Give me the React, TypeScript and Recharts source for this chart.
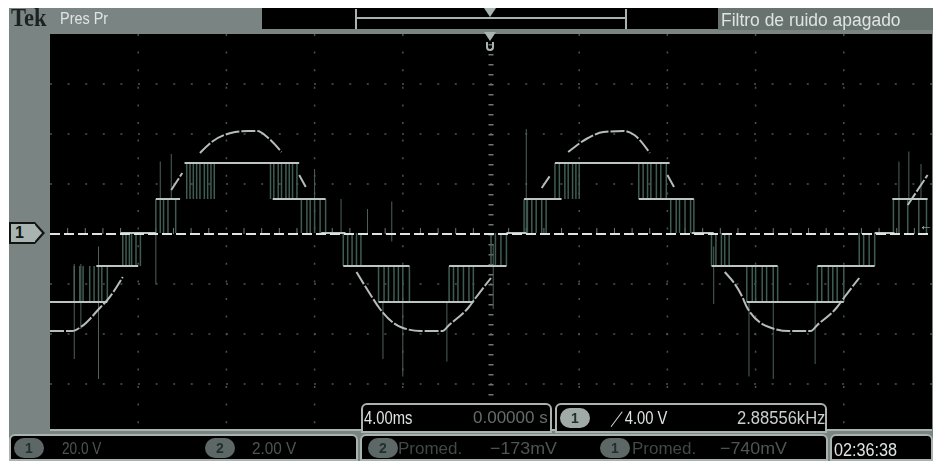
import React from 'react';
import { ComposedChart, Line, XAxis, YAxis, CartesianGrid, ReferenceLine } from 'recharts';

// time in ms (4 ms/div), channel 1 in volts (20 V/div)
const stepStart = [-20, -17.9, -16.8, -15.2, -13.9, -9.9, -7.7, -6.7, -5.1, -1.9, 0.7, 1.5, 2.9, 6.7, 9.1, 10, 11.6, 14.8, 17.4, 18.2];
const stepEnd = [-17.4, -16, -15.2, -14.1, -8.7, -7.5, -6.6, -3.7, -0.8, 0.7, 1.6, 3.2, 8.1, 9.2, 10.1, 13, 16, 17.4, 18.3, 19.8];
const stepLevel = [-27.2, -12.8, 0.4, 14, 28.4, 14, 0.4, -12.8, -27.2, -12.8, 0.4, 14, 28.4, 14, 0.4, -12.8, -27.2, -12.8, 0.4, 14];

const outlineMs = [-20, -19, -18.6, -17.7, -17.4, -16.7, -16, -14.5, -14, -13.6, -13.2, -12.6, -11.8, -11, -10.6, -10.1, -9.5, -9, -8.7, -8.4, -7, -6.1, -5.4, -5.1, -4.1, -3.2, -2.2, -1.9, -1, -0.7, 0, 1, 2.3, 2.7, 3.1, 3.5, 4.4, 5.1, 6, 6.5, 7.2, 7.6, 8, 8.3, 9.5, 10.6, 11.4, 11.6, 12.6, 13.5, 14.5, 14.8, 15.7, 16, 16.7, 18, 18.9, 19.8];
const outlineV = [-38.8, -38.8, -37.2, -29.2, -26.4, -17.2, null, 17.6, 24.4, null, 32.4, 37.2, 40.4, 41.2, 41.2, 38.4, 32.8, null, 23.6, 18.8, null, -15.2, -25.2, -29.2, -37.2, -38.8, -38.8, -36.4, -29.2, -25.6, -17.6, null, 18.4, 23.6, null, 32.8, 38.4, 40.8, 41.2, 39.6, 32.4, null, 23.6, 18.8, null, -15.2, -25.2, -29.2, -37.2, -38.8, -38.8, -36.4, -29.2, -25.6, -17.6, null, 11.6, 23.6];

// switching bursts between the inverter levels
const burstUpper = [-13.8, -13.65, -13.5, -13.35, -13.2, -13, -12.85, -12.7, -12.55, -10, -9.85, -9.65, -9.5, -9.3, -9.15, -9, -8.8, 2.9, 3.1, 3.35, 3.5, 3.7, 3.85, 4, 6.7, 6.9, 7.1, 7.25, 7.5, 7.7, 7.95];
const burstLower = [-15.2, -15, -14.85, -14.65, -14.3, -8.6, -8.35, -8.2, -8, -7.75, -7.5, 1.5, 1.65, 1.85, 2.05, 2.3, 2.5, 8.15, 8.4, 8.55, 8.8, 9.05, 9.2, 18.25, 18.5, 18.9, 19.4, 19.75];
const burstNegUpper = [-16.7, -16.55, -16.4, -16.3, -16.1, -15.9, -6.7, -6.5, -6.3, -6.1, -5.9, 0, 0.2, 0.45, 0.7, 10, 10.2, 10.45, 10.6, 10.8, 16.7, 16.9, 17.15, 17.4];
const burstNegLower = [-18.9, -18.65, -18.5, -18.2, -18, -17.8, -17.65, -17.4, -5.1, -4.85, -4.65, -4.4, -4.2, -4, -3.7, -1.9, -1.7, -1.5, -1.25, -1, -0.8, 11.6, 11.85, 12, 12.3, 12.5, 12.8, 13, 14.8, 15, 15.3, 15.5, 15.7, 16];

const spikeMs = [-18.9, -18.6, -17.8, -15.2, -15, -14.5, -8, 0.1, -6.8, -5.6, -4.5, -4.9, -4, -2, 1.6, 10.1, 11.7, 12.8, 14.7, 18.5, 18.95, 19.5];
const spikeTop = [-12, -12, -5, 0, 29, 32, 26, -4, 14, 10, 13, -27, -27, -27, 42, -5, -27, -27, -27, 29, 33, 28];
const spikeBottom = [-50, -38, -58, -20, 14, 14, 14, -30, 0, 0, -3, -50, -57, -51, 0, -28, -57, -58, -52, 14, 14, 14];

const topTicks = [-20, -19.2, -18.4, -17.6, -16.8, -16, -15.2, -14.4, -13.6, -12.8, -12, -11.2, -10.4, -9.6, -8.8, -8, -7.2, -6.4, -5.6, -4.8, -4, -3.2, -2.4, -1.6, -0.8, 0, 0.8, 1.6, 2.4, 3.2, 4, 4.8, 5.6, 6.4, 7.2, 8, 8.8, 9.6, 10.4, 11.2, 12, 12.8, 13.6, 14.4, 15.2, 16, 16.8, 17.6, 18.4, 19.2];
const sideTicks = [-72, -64, -56, -48, -40, -32, -24, -16, -8, 0, 8, 16, 24, 32, 40, 48, 56, 64, 72];
const gridMs = [-16, -12, -8, -4, 4, 8, 12, 16];
const gridV = [-60, -40, -20, 20, 40, 60];
const centerTickMs = [-19.2, -18.4, -17.6, -16.8, -15.2, -14.4, -13.6, -12.8, -11.2, -10.4, -9.6, -8.8, -7.2, -6.4, -5.6, -4.8, -3.2, -2.4, -1.6, -0.8, 0.8, 1.6, 2.4, 3.2, 4.8, 5.6, 6.4, 7.2, 8.8, 9.6, 10.4, 11.2, 12.8, 13.6, 14.4, 15.2, 16.8, 17.6, 18.4, 19.2];

const stepData = stepStart.flatMap((s, i) => [
  { t: s, v: stepLevel[i] },
  { t: stepEnd[i], v: stepLevel[i] },
  { t: stepEnd[i], v: null },
]);
const outlineData = outlineMs.map((t, i) => ({ t, v: outlineV[i] }));
const bars = (xs: number[], lo: number, hi: number) =>
  xs.flatMap((t) => [{ t, v: lo }, { t, v: hi }, { t, v: null }]);
const spikeData = spikeMs.flatMap((t, i) => [
  { t, v: spikeBottom[i] },
  { t, v: spikeTop[i] },
  { t, v: null },
]);
const burstData = [
  ...bars(burstUpper, 14, 28.4),
  ...bars(burstLower, 0.4, 14),
  ...bars(burstNegUpper, -12.8, 0.4),
  ...bars(burstNegLower, -27.2, -12.8),
];
const centerTicks = bars(centerTickMs, 0, 2.4);

const Label = ({ x, y, size = 18, color = '#dfe4e2', squeeze = 0.8, children }: any) => (
  <div style={{ position: 'absolute', left: x, top: y, fontFamily: "'Liberation Sans', sans-serif", fontSize: size, color, lineHeight: '18px', whiteSpace: 'nowrap', transform: `scaleX(${squeeze})`, transformOrigin: 'left' }}>
    {children}
  </div>
);

const Badge = ({ x, y, color = '#7f8a88', children }: any) => (
  <div style={{ position: 'absolute', left: x, top: y, width: 30, height: 20, borderRadius: 10, background: color, color: '#20302c', fontFamily: "'Liberation Sans', sans-serif", fontSize: 14, fontWeight: 700, textAlign: 'center', lineHeight: '20px' }}>
    {children}
  </div>
);

const Box = ({ x, y, w, h, radius = '6px 6px 0 0' }: any) => (
  <div style={{ position: 'absolute', left: x, top: y, width: w, height: h, boxSizing: 'border-box', background: '#000', border: '2px solid #a9b3b0', borderRadius: radius }} />
);

const App = () => {
  return (
    <div style={{ position: 'absolute', left: 0, top: 0, width: 935, height: 461, background: '#fff', overflow: 'hidden' }}>
      <div style={{ position: 'absolute', left: 0, top: 0, width: 935, height: 461, filter: 'blur(0.7px)' }}>
        <div style={{ position: 'absolute', left: 9, top: 8, width: 924, height: 453, background: '#7a8483' }} />
        <ComposedChart
          width={935}
          height={461}
          margin={{ top: 34, right: 3, bottom: 31, left: 50 }}
          style={{ position: 'absolute', left: 0, top: 0 }}
        >
          <CartesianGrid
            fill="#000"
            stroke="#4d5352"
            strokeWidth={1.5}
            strokeDasharray="2 15.6"
            horizontalValues={gridV}
            verticalValues={gridMs}
          />
          <XAxis
            dataKey="t"
            type="number"
            orientation="top"
            domain={[-20, 20]}
            ticks={topTicks}
            height={0}
            mirror
            allowDataOverflow
            interval={0}
            axisLine={{ stroke: '#a9b3b0', strokeWidth: 3 }}
            tickLine={{ stroke: '#7d8583' }}
            tickSize={-4}
            tick={{ fontSize: 0 }}
          />
          <YAxis
            type="number"
            domain={[-78.4, 80]}
            ticks={sideTicks}
            width={0}
            mirror
            allowDataOverflow
            interval={0}
            axisLine={{ stroke: '#a9b3b0', strokeWidth: 2 }}
            tickLine={{ stroke: '#7d8583' }}
            tickSize={-4}
            tick={{ fontSize: 0 }}
          />
          <ReferenceLine x={0} stroke="#6f7775" strokeWidth={5} strokeDasharray="1.5 8.5" />
          <ReferenceLine y={-78.4} stroke="#a9b3b0" strokeWidth={2} />
          <Line data={centerTicks} dataKey="v" stroke="#6f7775" strokeWidth={1} dot={false} legendType="none" isAnimationActive={false} />
          <Line data={burstData} dataKey="v" stroke="#3f5c52" strokeWidth={1.5} dot={false} isAnimationActive={false} />
          <Line data={spikeData} dataKey="v" stroke="#4d6159" strokeWidth={1} dot={false} isAnimationActive={false} />
          <Line data={outlineData} dataKey="v" stroke="#b4bdb9" strokeWidth={2} strokeDasharray="14 2" dot={false} type="monotone" isAnimationActive={false} />
          <Line data={stepData} dataKey="v" stroke="#bcc5c1" strokeWidth={2} dot={false} isAnimationActive={false} />
          <ReferenceLine y={0} stroke="#dfe4e2" strokeWidth={2} strokeDasharray="10 4" />
        </ComposedChart>

        {/* header */}
        <div style={{ position: 'absolute', left: 11, top: 5, fontFamily: "'Liberation Serif', serif", fontWeight: 700, fontSize: 25, color: '#1b2220', lineHeight: '26px', transform: 'scaleX(0.9)', transformOrigin: 'left' }}>Tek</div>
        <Label x={60} y={10} size={17} squeeze={0.85}>Pres Pr</Label>
        <div style={{ position: 'absolute', left: 262, top: 8, width: 456, height: 21, background: '#000' }} />
        <div style={{ position: 'absolute', left: 355, top: 9, width: 272, height: 20, boxSizing: 'border-box', border: '2px solid #a9b3b0', borderTop: 'none', borderBottom: 'none' }} />
        <div style={{ position: 'absolute', left: 355, top: 17, width: 272, height: 2, background: '#a9b3b0' }} />
        <div style={{ position: 'absolute', left: 484, top: 8, width: 0, height: 0, borderLeft: '6px solid transparent', borderRight: '6px solid transparent', borderTop: '9px solid #a9b3b0' }} />
        <div style={{ position: 'absolute', left: 484, top: 32, width: 0, height: 0, borderLeft: '6px solid transparent', borderRight: '6px solid transparent', borderTop: '9px solid #a9b3b0' }} />
        <div style={{ position: 'absolute', left: 486, top: 42, width: 8, height: 9, boxSizing: 'border-box', border: '2px solid #a9b3b0', borderTop: 'none', borderRadius: '0 0 4px 4px' }} />
        <div style={{ position: 'absolute', left: 718, top: 8, width: 215, height: 22, background: '#68726f' }} />
        <Label x={721} y={11} size={18} squeeze={0.97}>Filtro de ruido apagado</Label>

        {/* channel marker */}
        <div style={{ position: 'absolute', left: 9, top: 222, width: 26, height: 22, boxSizing: 'border-box', background: '#a9b3b0', border: '2px solid #101413', borderRight: 'none', color: '#101413', fontFamily: "'Liberation Sans', sans-serif", fontWeight: 700, fontSize: 16, lineHeight: '18px', paddingLeft: 4 }}>1</div>
        <div style={{ position: 'absolute', left: 35, top: 222, width: 0, height: 0, borderTop: '11px solid transparent', borderBottom: '11px solid transparent', borderLeft: '10px solid #101413' }} />
        <div style={{ position: 'absolute', left: 35, top: 225, width: 0, height: 0, borderTop: '8px solid transparent', borderBottom: '8px solid transparent', borderLeft: '7px solid #a9b3b0' }} />
        <Label x={919} y={216} size={14} squeeze={1} color="#b9c2bf">←</Label>

        {/* readouts */}
        <Box x={361} y={403} w={191} h={30} />
        <Box x={555} y={403} w={272} h={30} />
        <Label x={364} y={409} size={18} squeeze={0.82}>4.00ms</Label>
        <Label x={473} y={409} size={17} squeeze={1} color="#636e6c">0.00000 s</Label>
        <Badge x={560} y={408} color="#a0aaa7">1</Badge>
        <Label x={610} y={409} size={18} squeeze={0.82}>／4.00 V</Label>
        <Label x={737} y={409} size={18} squeeze={0.92} color="#c8cfcc">2.88556kHz</Label>

        <Box x={9} y={434} w={349} h={27} />
        <Box x={360} y={434} w={468} h={27} />
        <Box x={830} y={434} w={103} h={27} />
        <Badge x={14} y={438} color="#5d6866">1</Badge>
        <Label x={62} y={440} size={17} squeeze={0.8} color="#4c5654">20.0 V</Label>
        <Badge x={205} y={438} color="#5d6866">2</Badge>
        <Label x={252} y={440} size={17} squeeze={0.9} color="#4c5654">2.00 V</Label>
        <Badge x={368} y={438} color="#5d6866">2</Badge>
        <Label x={398} y={440} size={17} squeeze={1} color="#3f4947">Promed.</Label>
        <Label x={490} y={440} size={17} squeeze={1.05} color="#4c5654">−173mV</Label>
        <Badge x={600} y={438} color="#5d6866">1</Badge>
        <Label x={632} y={440} size={17} squeeze={1} color="#3f4947">Promed.</Label>
        <Label x={720} y={440} size={17} squeeze={1.05} color="#4c5654">−740mV</Label>
        <Label x={834} y={441} size={18} squeeze={0.9}>02:36:38</Label>
      </div>
    </div>
  );
};

export default App;
